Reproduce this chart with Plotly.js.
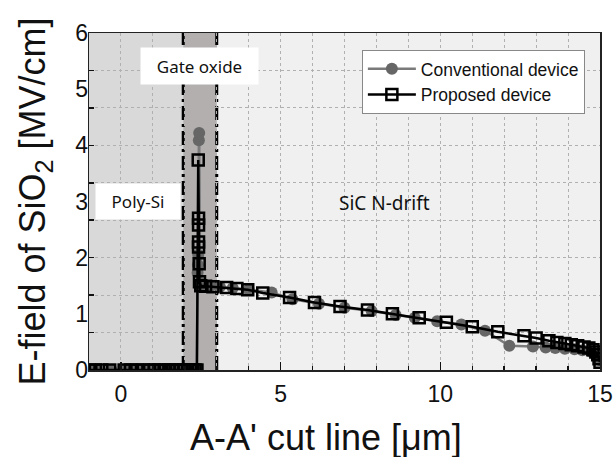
<!DOCTYPE html>
<html>
<head>
<meta charset="utf-8">
<script src="https://cdn.plot.ly/plotly-3.0.1.min.js"></script>
<style>html,body{margin:0;padding:0;background:#fff;}#chart{width:614px;height:457px;}</style>
</head>
<body>
<div id="chart"></div>
<script>
// Conventional device
const convX = [-1.0, -0.7, -0.3, 0.1, 0.4, 0.7, 0.95, 1.2, 1.4, 1.6, 1.75, 1.9, 2.05, 2.2, 2.3, 2.37,
  2.4, 2.41, 2.42, 2.44, 2.45, 2.48,
  2.55, 2.8, 3.1, 3.5, 4.0, 4.72, 5.37, 6.2, 7.0, 7.85, 8.6, 9.2, 9.9, 10.66, 11.4,
  12.16, 12.9, 13.3, 13.6, 13.9, 14.2, 14.45, 14.7, 14.85, 14.95, 15.0];
const convY = [0, 0, 0, 0, 0, 0, 0, 0, 0, 0, 0, 0, 0, 0, 0, 0,
  1.73, 1.87, 2.05, 4.09, 4.22, 1.55,
  1.5, 1.49, 1.48, 1.46, 1.43, 1.38, 1.26, 1.18, 1.11, 1.05, 0.98, 0.93, 0.87, 0.81, 0.70,
  0.43, 0.42, 0.40, 0.39, 0.38, 0.37, 0.35, 0.33, 0.30, 0.24, 0.18];

// Proposed device
const propX = [-1.0, -0.8, -0.6, -0.35, 0.1, 0.3, 0.5, 0.7, 0.9, 1.05, 1.2, 1.35, 1.5, 1.62, 1.75, 1.87, 1.98, 2.08, 2.17, 2.25, 2.32, 2.38,
  2.42, 2.43, 2.43, 2.43, 2.43, 2.45, 2.46,
  2.5, 2.65, 2.88, 3.31, 3.63, 3.97, 4.44, 5.28, 6.06, 6.86, 7.72, 8.5, 9.34, 10.19, 11.0, 11.8,
  12.62, 13.0, 13.4, 13.65, 13.9, 14.1, 14.3, 14.5, 14.65, 14.78, 14.87, 14.93, 14.97, 15.0];
const propY = [0, 0, 0, 0, 0, 0, 0, 0, 0, 0, 0, 0, 0, 0, 0, 0, 0, 0, 0, 0, 0, 0,
  3.74, 2.7, 2.58, 2.28, 2.19, 1.89, 1.57,
  1.5, 1.49, 1.48, 1.47, 1.45, 1.43, 1.37, 1.29, 1.2, 1.13, 1.07, 1.0, 0.93, 0.85, 0.77, 0.68,
  0.61, 0.57, 0.52, 0.49, 0.47, 0.45, 0.43, 0.41, 0.39, 0.36, 0.32, 0.27, 0.2, 0.14];

const seriesNames = ['Conventional device', 'Proposed device'];
const xTickVals = [0, 5, 10, 15];
const yTickVals = [0, 1, 2, 3, 4, 5, 6];
const regionLabels = ['Gate oxide', 'Poly-Si', 'SiC N-drift'];
const xTitle = "A-A' cut line [μm]";
const yTitle = 'E-field of SiO<sub>2</sub> [MV/cm]';

const FONT = 'Liberation Sans, Arial, sans-serif';
const LABELFONT = 'Noto Sans, sans-serif';

const traces = [
  {
    x: convX, y: convY, name: seriesNames[0], type: 'scatter', mode: 'lines+markers',
    line: {color: '#7a7a7a', width: 2.5},
    marker: {symbol: 'circle', size: 12, color: '#666666'}
  },
  {
    x: propX, y: propY, name: seriesNames[1], type: 'scatter', mode: 'lines+markers',
    line: {color: '#000000', width: 2.5},
    marker: {symbol: 'square-open', size: 11, color: '#000000', line: {width: 2.5, color: '#000000'}}
  },
  {x: [null], y: [null], yaxis: 'y2', showlegend: false, hoverinfo: 'skip', type: 'scatter', mode: 'markers'}
];

const layout = {
  width: 614, height: 457,
  margin: {l: 89, r: 14, t: 33, b: 87},
  paper_bgcolor: '#ffffff',
  plot_bgcolor: '#f0f0f0',
  showlegend: true,
  legend: {
    x: 0.534, y: 0.95, xanchor: 'left', yanchor: 'top',
    bgcolor: '#ffffff', bordercolor: '#888888', borderwidth: 1,
    font: {family: FONT, size: 17.5, color: '#111'},
    itemwidth: 48,
    tracegroupgap: 0
  },
  xaxis: {
    range: [-1, 15], tickmode: 'array', tickvals: xTickVals, ticktext: xTickVals.map(String),
    ticks: 'inside', ticklen: 8, tickwidth: 1.5, tickcolor: '#111',
    showgrid: true, gridcolor: '#b0b0b0', griddash: 'dot', gridwidth: 1,
    minor: {dtick: 1, tick0: 0, ticks: 'inside', ticklen: 4, tickcolor: '#111', showgrid: true, gridcolor: '#b0b0b0', griddash: 'dot'},
    showline: true, linecolor: '#222', linewidth: 1.5, mirror: true,
    zeroline: false,
    ticklabelstandoff: 3,
    tickfont: {family: FONT, size: 23, color: '#111'}
  },
  yaxis: {
    range: [0, 6], tickmode: 'linear', tick0: 0, dtick: 2/3,
    ticks: 'inside', ticklen: 5, tickwidth: 1.5, tickcolor: '#111',
    showticklabels: false,
    showgrid: true, gridcolor: '#b0b0b0', griddash: 'dot', gridwidth: 1,
    showline: true, linecolor: '#222', linewidth: 1.5, mirror: true,
    zeroline: false
  },
  yaxis2: {
    overlaying: 'y', side: 'left', range: [0, 6],
    tickmode: 'array', tickvals: yTickVals, ticktext: yTickVals.map(String),
    ticks: '', showgrid: false, zeroline: false, showline: false,
    tickfont: {family: FONT, size: 23, color: '#111'},
    title: {text: yTitle, font: {family: FONT, size: 36, color: '#111'}, standoff: 18}
  },
  shapes: [
    {type: 'rect', xref: 'x', yref: 'paper', x0: -1, x1: 1.95, y0: 0, y1: 1, fillcolor: '#d9d9d9', line: {width: 0}, layer: 'below'},
    {type: 'rect', xref: 'x', yref: 'paper', x0: 1.95, x1: 3.0, y0: 0, y1: 1, fillcolor: '#b3afaf', line: {width: 0}, layer: 'below'},
    {type: 'line', xref: 'x', yref: 'paper', x0: 1.95, x1: 1.95, y0: 0, y1: 1, line: {color: '#000', width: 3, dash: '14px,4px,3px,4px'}, layer: 'between'},
    {type: 'line', xref: 'x', yref: 'paper', x0: 3.0, x1: 3.0, y0: 0, y1: 1, line: {color: '#000', width: 3, dash: '14px,4px,3px,4px'}, layer: 'between'}
  ],
  annotations: [
    {text: regionLabels[0], x: 2.47, y: 5.41, xref: 'x', yref: 'y', showarrow: false,
     bgcolor: '#ffffff', width: 115, height: 34, font: {family: LABELFONT, size: 17, color: '#111'}},
    {text: regionLabels[1], x: 0.53, y: 3.0, xref: 'x', yref: 'y', showarrow: false,
     bgcolor: '#ffffff', width: 82, height: 33, font: {family: LABELFONT, size: 17, color: '#111'}},
    {text: regionLabels[2], x: 8.25, y: 2.97, xref: 'x', yref: 'y', showarrow: false,
     font: {family: LABELFONT, size: 19, color: '#111'}},
    {text: xTitle, x: 0.464, y: -0.2, xref: 'paper', yref: 'paper', xanchor: 'center', yanchor: 'middle',
     showarrow: false, font: {family: FONT, size: 36, color: '#111'}}
  ]
};

Plotly.newPlot('chart', traces, layout, {displayModeBar: false, staticPlot: true});
</script>
</body>
</html>
